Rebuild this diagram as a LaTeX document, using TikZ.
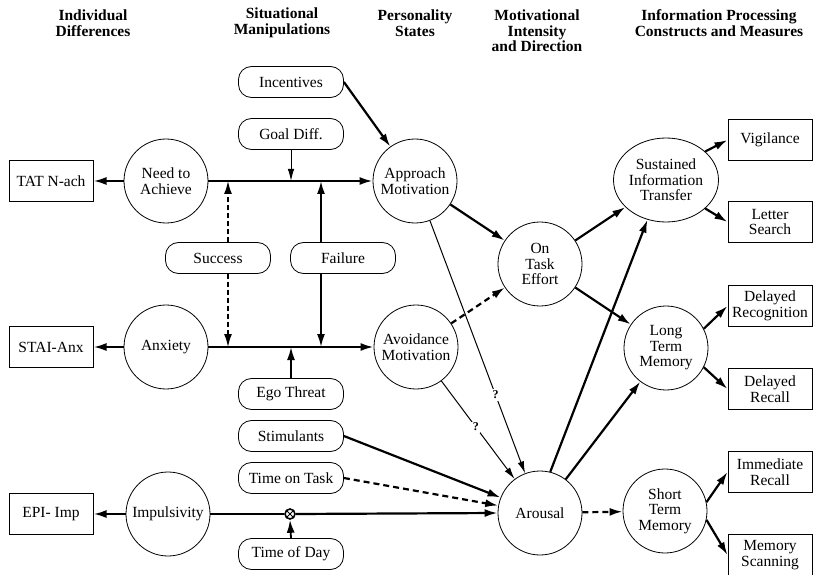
\documentclass[tikz,border=0pt]{standalone}
\usepackage{fontspec}
\setmainfont{Liberation Serif}
\usetikzlibrary{arrows.meta,shapes.geometric}

\begin{document}
\begin{tikzpicture}[x=1pt,y=-1pt,
  every node/.style={font=\fontsize{15.5}{15.5}\selectfont, align=center},
  state/.style={circle, draw, line width=0.8pt, minimum size=84pt, inner sep=0pt},
  oval/.style={ellipse, draw, line width=0.8pt, minimum width=105pt, minimum height=84pt, inner sep=0pt},
  measure/.style={rectangle, draw, line width=1pt, minimum width=84pt, minimum height=41pt, inner xsep=0pt, inner ysep=1pt},
  manip/.style={rectangle, rounded corners=13pt, draw, line width=0.8pt, minimum width=105pt, minimum height=31pt, inner sep=1pt},
  header/.style={font=\bfseries\fontsize{15.5}{15.5}\selectfont, align=center},
  qmark/.style={font=\bfseries\fontsize{12}{12}\selectfont, fill=white, inner sep=1.5pt},
  thk/.style={line width=2.2pt, -{Latex[length=13pt,width=8pt]}},
  med/.style={line width=1.8pt, -{Latex[length=13pt,width=8pt]}},
  thn/.style={line width=1pt, -{Latex[length=12pt,width=6.5pt]}},
  dsh/.style={line width=1.6pt, dash pattern=on 5pt off 3pt, -{Latex[length=13pt,width=8pt]}},
  dshthk/.style={line width=2.2pt, dash pattern=on 6pt off 4pt, -{Latex[length=13pt,width=8pt]}}
]
\useasboundingbox (0,0) rectangle (815,575);

% column headings
\node[header] (h1) at (93,23) {Individual\\Differences};
\node[header] (h2) at (282,23) {Situational\\Manipulations};
\node[header] (h3) at (415,23) {Personality\\States};
\node[header] (h4) at (537,31) {Motivational\\Intensity\\and Direction};
\node[header] (h5) at (719,23) {Information Processing\\Constructs and Measures};

% individual differences and their measures
\node[measure] (tat) at (51,181) {TAT N-ach};
\node[measure] (stai) at (51,347) {STAI-Anx};
\node[measure] (epi) at (51,514) {EPI- Imp};
\node[state] (need) at (166,181) {Need to\\Achieve};
\node[state] (anx) at (166,347) {Anxiety};
\node[state] (imp) at (168,514) {Impulsivity};

% situational manipulations
\node[manip] (inc) at (291,82) {Incentives};
\node[manip] (goal) at (291,134) {Goal Diff.};
\node[manip] (succ) at (218,258) {Success};
\node[manip] (fail) at (343,258) {Failure};
\node[manip] (ego) at (291,394) {Ego Threat};
\node[manip] (stim) at (291,436) {Stimulants};
\node[manip] (tot) at (291,478) {Time on Task};
\node[manip] (tod) at (291,554) {Time of Day};

% personality states and motivation
\node[state] (app) at (415,181) {Approach\\Motivation};
\node[state] (avo) at (416,347) {Avoidance\\Motivation};
\node[state] (eff) at (540,264) {On\\Task\\Effort};
\node[state] (aro) at (540,513) {Arousal};

% information processing constructs
\node[oval] (sit) at (666,180) {Sustained\\Information\\Transfer};
\node[state] (ltm) at (666,348) {Long\\Term\\Memory};
\node[state] (stm) at (665,511) {Short\\Term\\Memory};

% measures
\node[measure] (vig) at (770,140) {Vigilance};
\node[measure] (let) at (770,222) {Letter\\Search};
\node[measure] (drg) at (770,306) {Delayed\\Recognition};
\node[measure] (drc) at (770,389) {Delayed\\Recall};
\node[measure] (imr) at (770,472) {Immediate\\Recall};
\node[measure] (msc) at (770,555) {Memory\\Scanning};

% interaction point on the impulsivity path
\node[circle, draw, line width=1.6pt, minimum size=10pt, inner sep=0pt,
      path picture={\draw[line width=0.8pt]
        (path picture bounding box.north west) -- (path picture bounding box.south east)
        (path picture bounding box.north east) -- (path picture bounding box.south west);}]
      (mult) at (290,514) {};

% individual differences to measures
\draw[thk] (need) -- (tat);
\draw[thk] (anx) -- (stai);
\draw[thk] (imp) -- (epi);

% main motivational paths
\draw[thk] (need.east) -- (app.west);
\draw[thk] (anx.east) -- (avo.west);
\draw[line width=2.2pt] (imp.east) -- (mult.west);
\draw[thk] (mult.east) -- (aro.west);

% manipulations acting on the paths
\draw[thk] (inc.east) -- (app);
\draw[thn] (goal.south) -- (goal.south |- need.east);
\draw[dsh] ([xshift=10pt]succ.north) -- ([xshift=10pt]succ.north |- need.east);
\draw[dsh] ([xshift=10pt]succ.south) -- ([xshift=10pt]succ.south |- anx.east);
\draw[med] ([xshift=-22pt]fail.north) -- ([xshift=-22pt]fail.north |- need.east);
\draw[med] ([xshift=-22pt]fail.south) -- ([xshift=-22pt]fail.south |- anx.east);
\draw[med] (ego.north) -- (ego.north |- anx.east);
\draw[thk] (stim.east) -- (aro);
\draw[dshthk] (tot.east) -- (aro);
\draw[med] (tod.north) -- (mult.south);

% motivation to effort and arousal
\draw[thk] (app) -- (eff);
\draw[dshthk] (avo) -- (eff);
\draw[thn] (app) -- node[qmark, pos=0.69] {?} (aro);
\draw[thn] (avo) -- node[qmark, pos=0.47] {?} (aro);

% effort and arousal to processing constructs
\draw[thk] (eff) -- (sit);
\draw[thk] (eff) -- (ltm);
\draw[thk] (aro.76) -- (sit.245);
\draw[thk] (aro) -- (ltm);
\draw[dshthk] (aro) -- (stm);

% constructs to measures
\draw[thk] (sit.36) -- (vig.west);
\draw[thk] (sit.-36) -- (let.west);
\draw[thk] (ltm.27) -- (drg.west);
\draw[thk] (ltm.-27) -- (drc.west);
\draw[thk] (stm.12) -- (imr.west);
\draw[thk] (stm.-12) -- (msc.west);
\end{tikzpicture}
\end{document}
